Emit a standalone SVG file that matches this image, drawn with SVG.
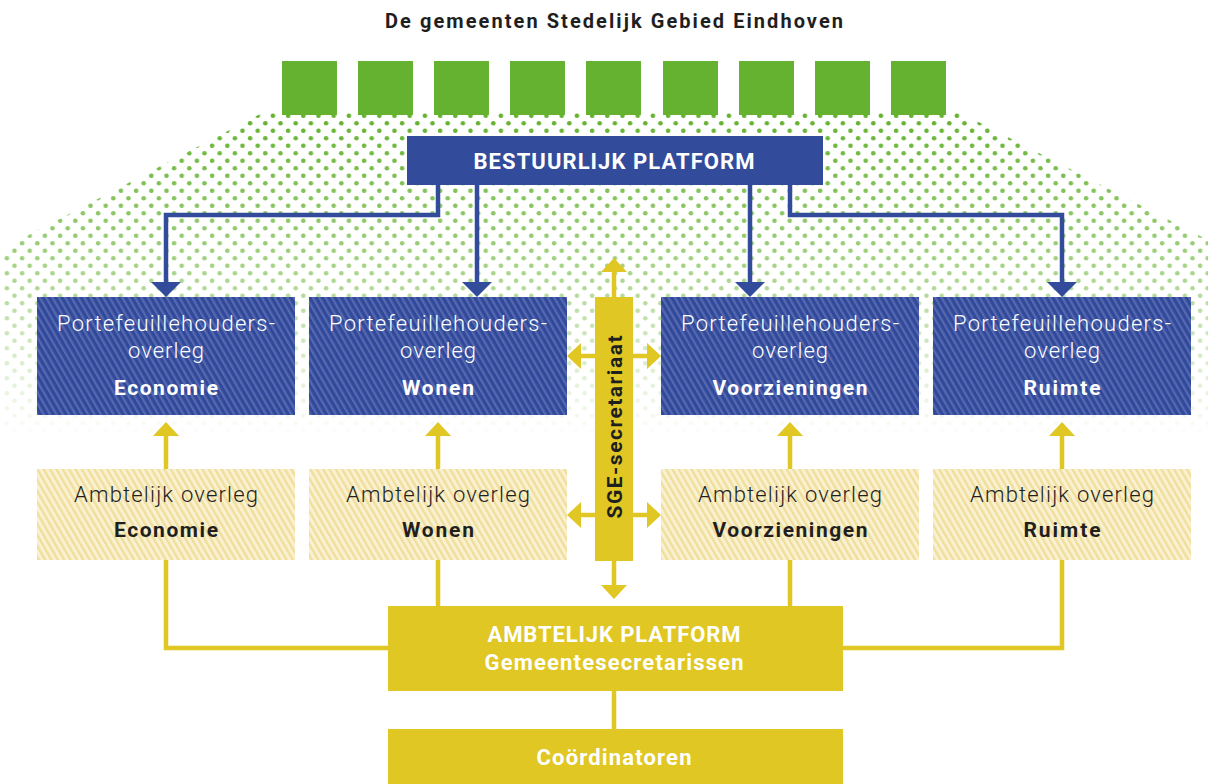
<svg xmlns="http://www.w3.org/2000/svg" width="1208" height="784" viewBox="0 0 1208 784">
<style>
.t{font-family:Roboto,"Liberation Sans",sans-serif;text-anchor:middle}
.b{font-weight:700}
.l{font-weight:300}
.w{fill:#ffffff}
.d{fill:#1f1f1f}
.bl{fill:none;stroke:#324b9b;stroke-width:4.5}
.yl{fill:none;stroke:#e0c723;stroke-width:4.5}
</style>
<defs>
<pattern id="dots" patternUnits="userSpaceOnUse" x="0" y="0" width="15.2" height="15">
<circle cx="6.9" cy="3.3" r="2.3" fill="#64b22f"/>
<circle cx="14.5" cy="10.8" r="2.3" fill="#64b22f"/>
<circle cx="-0.7" cy="10.8" r="2.3" fill="#64b22f"/>
</pattern>
<linearGradient id="fadeG" gradientUnits="userSpaceOnUse" x1="0" y1="118" x2="0" y2="440">
<stop offset="0" stop-color="#fff" stop-opacity="1"/>
<stop offset="0.4" stop-color="#fff" stop-opacity="0.65"/>
<stop offset="0.7" stop-color="#fff" stop-opacity="0.3"/>
<stop offset="1" stop-color="#fff" stop-opacity="0"/>
</linearGradient>
<mask id="fade" maskUnits="userSpaceOnUse" x="0" y="0" width="1208" height="784">
<rect x="0" y="100" width="1208" height="345" fill="url(#fadeG)"/>
</mask>
<pattern id="blueH" patternUnits="userSpaceOnUse" width="5.5" height="10" patternTransform="rotate(-30)">
<rect x="0" y="0" width="5.5" height="10" fill="#30499a"/>
<rect x="0" y="0" width="2.3" height="10" fill="#5669b0"/>
</pattern>
<pattern id="yelH" patternUnits="userSpaceOnUse" width="5.5" height="10" patternTransform="rotate(-30)">
<rect x="0" y="0" width="5.5" height="10" fill="#f9f1d2"/>
<rect x="0" y="0" width="2.4" height="10" fill="#f0de9b"/>
</pattern>
<marker id="ab" markerUnits="userSpaceOnUse" markerWidth="16" markerHeight="30" refX="0" refY="15" orient="auto" overflow="visible">
<path d="M0,0 L15,15 L0,30 Z" fill="#324b9b"/>
</marker>
<marker id="ay" markerUnits="userSpaceOnUse" markerWidth="14" markerHeight="26" refX="0" refY="13" orient="auto" overflow="visible">
<path d="M0,0 L14,13 L0,26 Z" fill="#e0c723"/>
</marker>
</defs>
<rect width="1208" height="784" fill="#ffffff"/>
<g id="dotfield">
<polygon points="264,112 959,112 1208,240 1208,445 4,445 4,248" fill="url(#dots)" mask="url(#fade)"/>
</g>
<g id="gemeenten">
<text class="t b" x="614" y="28" font-size="20" fill="#1f1f1f" textLength="458">De gemeenten Stedelijk Gebied Eindhoven</text>
<rect x="282" y="61" width="55" height="54" fill="#64b22f"/>
<rect x="358" y="61" width="55" height="54" fill="#64b22f"/>
<rect x="434" y="61" width="55" height="54" fill="#64b22f"/>
<rect x="510" y="61" width="55" height="54" fill="#64b22f"/>
<rect x="586" y="61" width="55" height="54" fill="#64b22f"/>
<rect x="663" y="61" width="55" height="54" fill="#64b22f"/>
<rect x="739" y="61" width="55" height="54" fill="#64b22f"/>
<rect x="815" y="61" width="55" height="54" fill="#64b22f"/>
<rect x="891" y="61" width="55" height="54" fill="#64b22f"/>
</g>
<g id="connectors">
<path class="bl" d="M438,185 V215 H166 V282" marker-end="url(#ab)"/>
<path class="bl" d="M477,185 V282" marker-end="url(#ab)"/>
<path class="bl" d="M750,185 V282" marker-end="url(#ab)"/>
<path class="bl" d="M790,185 V215 H1062 V282" marker-end="url(#ab)"/>
<path class="yl" d="M166,469 V436" marker-end="url(#ay)"/>
<path class="yl" d="M438,469 V436" marker-end="url(#ay)"/>
<path class="yl" d="M790,469 V436" marker-end="url(#ay)"/>
<path class="yl" d="M1062,469 V436" marker-end="url(#ay)"/>
<path class="yl" d="M166,560 V648 H390"/>
<path class="yl" d="M438,560 V607"/>
<path class="yl" d="M790,560 V607"/>
<path class="yl" d="M1062,560 V648 H841"/>
<path class="yl" d="M614,690 V730"/>
<path class="yl" d="M614,298 V272" marker-end="url(#ay)"/>
<path class="yl" d="M614,560 V585" marker-end="url(#ay)"/>
<path class="yl" d="M596,356 H581" marker-end="url(#ay)"/>
<path class="yl" d="M632,356 H647" marker-end="url(#ay)"/>
<path class="yl" d="M596,515 H581" marker-end="url(#ay)"/>
<path class="yl" d="M632,515 H647" marker-end="url(#ay)"/>
</g>
<g id="bestuurlijk-platform">
<rect x="407" y="136" width="416" height="49" fill="#324b9b"/>
<text class="t b w" x="614" y="169" font-size="22" textLength="281">BESTUURLIJK PLATFORM</text>
</g>
<g id="po-economie">
<rect x="37" y="297" width="258" height="118" fill="url(#blueH)"/>
<text class="t l w" x="166" y="331" font-size="22" textLength="218">Portefeuillehouders-</text>
<text class="t l w" x="166" y="358" font-size="22" textLength="76">overleg</text>
<text class="t b w" x="166" y="395" font-size="21" textLength="104">Economie</text>
</g>
<g id="po-wonen">
<rect x="309" y="297" width="258" height="118" fill="url(#blueH)"/>
<text class="t l w" x="438" y="331" font-size="22" textLength="218">Portefeuillehouders-</text>
<text class="t l w" x="438" y="358" font-size="22" textLength="76">overleg</text>
<text class="t b w" x="438" y="395" font-size="21" textLength="72">Wonen</text>
</g>
<g id="po-voorzieningen">
<rect x="661" y="297" width="258" height="118" fill="url(#blueH)"/>
<text class="t l w" x="790" y="331" font-size="22" textLength="218">Portefeuillehouders-</text>
<text class="t l w" x="790" y="358" font-size="22" textLength="76">overleg</text>
<text class="t b w" x="790" y="395" font-size="21" textLength="155">Voorzieningen</text>
</g>
<g id="po-ruimte">
<rect x="933" y="297" width="258" height="118" fill="url(#blueH)"/>
<text class="t l w" x="1062" y="331" font-size="22" textLength="218">Portefeuillehouders-</text>
<text class="t l w" x="1062" y="358" font-size="22" textLength="76">overleg</text>
<text class="t b w" x="1062" y="395" font-size="21" textLength="77">Ruimte</text>
</g>
<g id="ao-economie">
<rect x="37" y="469" width="258" height="91" fill="url(#yelH)"/>
<text class="t l d" x="166" y="502" font-size="22" textLength="184">Ambtelijk overleg</text>
<text class="t b d" x="166" y="537" font-size="21" textLength="104">Economie</text>
</g>
<g id="ao-wonen">
<rect x="309" y="469" width="258" height="91" fill="url(#yelH)"/>
<text class="t l d" x="438" y="502" font-size="22" textLength="184">Ambtelijk overleg</text>
<text class="t b d" x="438" y="537" font-size="21" textLength="72">Wonen</text>
</g>
<g id="ao-voorzieningen">
<rect x="661" y="469" width="258" height="91" fill="url(#yelH)"/>
<text class="t l d" x="790" y="502" font-size="22" textLength="184">Ambtelijk overleg</text>
<text class="t b d" x="790" y="537" font-size="21" textLength="155">Voorzieningen</text>
</g>
<g id="ao-ruimte">
<rect x="933" y="469" width="258" height="91" fill="url(#yelH)"/>
<text class="t l d" x="1062" y="502" font-size="22" textLength="184">Ambtelijk overleg</text>
<text class="t b d" x="1062" y="537" font-size="21" textLength="77">Ruimte</text>
</g>
<g id="sge-secretariaat">
<rect x="595" y="297" width="38" height="264" fill="#e0c723"/>
<text class="t b d" transform="translate(621.5,427) rotate(-90)" x="0" y="0" font-size="21" textLength="183">SGE-secretariaat</text>
</g>
<g id="ambtelijk-platform">
<rect x="388" y="606" width="455" height="85" fill="#e0c723"/>
<text class="t b w" x="614" y="642" font-size="22" textLength="253">AMBTELIJK PLATFORM</text>
<text class="t b w" x="614" y="670" font-size="22" textLength="259">Gemeentesecretarissen</text>
</g>
<g id="coordinatoren">
<rect x="388" y="729" width="455" height="55" fill="#e0c723"/>
<text class="t b w" x="614" y="765" font-size="22" textLength="155">Coördinatoren</text>
</g>
</svg>
